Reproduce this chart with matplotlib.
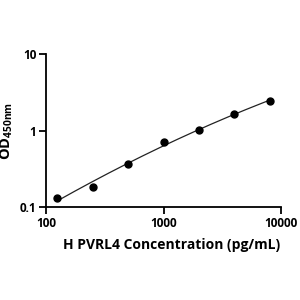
import numpy as np
import matplotlib
matplotlib.use('Agg')
from matplotlib import pyplot as plt

plt.rcParams['font.family'] = ['Open Sans', 'DejaVu Sans']
plt.rcParams['font.weight'] = 'bold'
plt.rcParams['mathtext.fontset'] = 'custom'
plt.rcParams['mathtext.bf'] = 'Open Sans:bold'
plt.rcParams['mathtext.rm'] = 'Open Sans:bold'

# standard curve points
conc = [125, 250, 500, 1000, 2000, 4000, 8000]
od = [0.132, 0.184, 0.365, 0.70, 1.02, 1.66, 2.42]

x_ticks = [100, 1000, 10000]
x_labels = ['100', '1000', '10000']
y_ticks = [0.1, 1, 10]
y_labels = ['0.1', '1', '10']

# smooth fit in log-log space
lx = np.log10(conc)
ly = np.log10(od)
coef = np.polyfit(lx, ly, 2)
xs = np.linspace(lx[0], lx[-1], 200)
ys = np.polyval(coef, xs)

fig = plt.figure(figsize=(3, 3), dpi=100)
ax = fig.add_axes([0.153, 0.31, 0.784, 0.51])

ax.plot(10**xs, 10**ys, color='#222222', lw=0.9)
ax.plot(conc, od, 'o', color='black', ms=5)

ax.set_xscale('log')
ax.set_yscale('log')
ax.set_xlim(100, 10000)
ax.set_ylim(0.1, 10)
ax.set_xticks(x_ticks)
ax.set_xticklabels(x_labels)
ax.set_yticks(y_ticks)
ax.set_yticklabels(y_labels)
ax.minorticks_off()
ax.tick_params(width=1.3, length=5, labelsize=8.5, pad=2)

for s in ['top', 'right']:
    ax.spines[s].set_visible(False)
for s in ['left', 'bottom']:
    ax.spines[s].set_linewidth(1.3)

ax.set_xlabel('H PVRL4 Concentration (pg/mL)', fontsize=10, fontweight='bold')
ax.xaxis.set_label_coords(0.535, -0.2)
ax.set_ylabel(r'$\mathbf{OD}_{\mathbf{450nm}}$', fontsize=10.5)
ax.yaxis.set_label_coords(-0.13, 0.5)

fig.savefig('out.png', dpi=100)
